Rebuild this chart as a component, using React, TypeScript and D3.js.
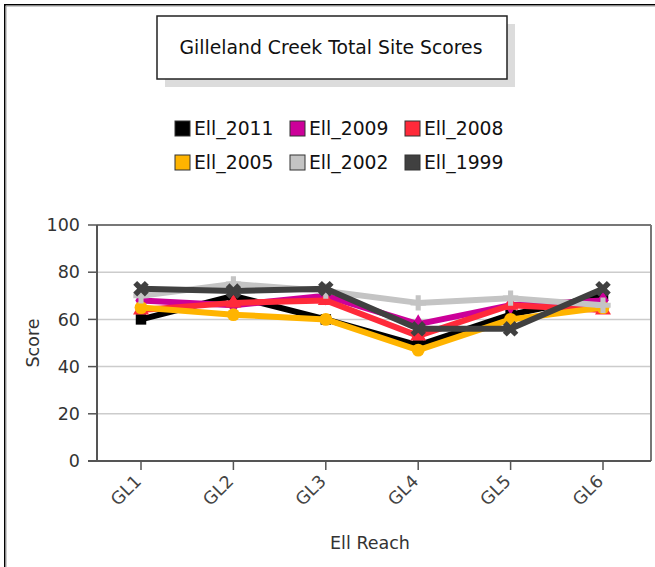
import React from "react";
import * as d3 from "d3";

const categories = ["GL1", "GL2", "GL3", "GL4", "GL5", "GL6"];
const seriesNames = ["Ell_2011", "Ell_2009", "Ell_2008", "Ell_2005", "Ell_2002", "Ell_1999"];
const ell2011 = [60, 70, 60, 49, 62, 70];
const ell2009 = [68, 66, 70, 58, 66, 68];
const ell2008 = [64, 67, 68, 53, 66, 64];
const ell2005 = [65, 62, 60, 47, 60, 65];
const ell2002 = [70, 75, 72, 67, 69, 66];
const ell1999 = [73, 72, 73, 56, 56, 73];
const seriesValues = [ell2011, ell2009, ell2008, ell2005, ell2002, ell1999];
const colors = ["#000000", "#cc0099", "#ff2a3a", "#ffb400", "#c4c4c4", "#404040"];
const yTicks = [0, 20, 40, 60, 80, 100];
const title = "Gilleland Creek Total Site Scores";

const FONT = "DejaVu Sans, sans-serif";

export default function App() {
  const left = 97, right = 651, top = 225, bottom = 461;
  const x = d3.scalePoint<string>().domain(categories).range([141, 603]);
  const y = d3.scaleLinear().domain([0, 100]).range([bottom, top]);
  const line = d3.line<number>().x((_, i) => x(categories[i])!).y((v) => y(v));

  const symbolFor = (i: number) => {
    switch (i) {
      case 0: return d3.symbol().type(d3.symbolSquare).size(110)()!;
      case 1: return d3.symbol().type(d3.symbolDiamond).size(110)()!;
      case 2: return d3.symbol().type(d3.symbolTriangle).size(110)()!;
      case 3: return d3.symbol().type(d3.symbolCircle).size(130)()!;
      case 4: return d3.symbol().type(d3.symbolCross).size(130)()!;
      default: return d3.symbol().type(d3.symbolCross).size(150)()!;
    }
  };

  const legendX = [175, 290, 405];
  const legendY = [121, 155];

  return (
    <svg width={655} height={567} style={{ position: "absolute", left: 0, top: 0, background: "#fff" }}>
      <rect x={0} y={0} width={655} height={567} fill="#fff" />
      {/* outer frame */}
      <path d="M4.75,567 V4.75 H655" fill="none" stroke="#000" strokeWidth={1.5} />
      <path d="M6,567 V6 H655" fill="none" stroke="#999" strokeWidth={1} />

      {/* title */}
      <rect x={165} y={24} width={350} height={63} fill="#dcdcdc" />
      <rect x={157} y={16} width={350} height={63} fill="#fff" stroke="#222" strokeWidth={1.5} />
      <text x={331} y={54} textAnchor="middle" fontFamily={FONT} fontSize={18.8} fill="#111">{title}</text>

      {/* legend */}
      {seriesNames.map((name, i) => {
        const lx = legendX[i % 3];
        const ly = legendY[Math.floor(i / 3)];
        return (
          <g key={name}>
            <rect x={lx} y={ly} width={15} height={15} fill={colors[i]} stroke="#333" strokeWidth={1} />
            <text x={lx + 19} y={ly + 14} fontFamily={FONT} fontSize={18.8} fill="#111">{name}</text>
          </g>
        );
      })}

      {/* gridlines */}
      {yTicks.filter((t) => t > 0 && t < 100).map((t) => (
        <line key={t} x1={left} x2={right} y1={y(t)} y2={y(t)} stroke="#cccccc" strokeWidth={1.5} />
      ))}
      {/* plot border top/right */}
      <line x1={left} x2={right} y1={y(100)} y2={y(100)} stroke="#777" strokeWidth={2} />
      <line x1={right} x2={right} y1={y(100)} y2={y(0)} stroke="#777" strokeWidth={2} />

      {/* series */}
      {seriesValues.map((vals, i) => (
        <g key={seriesNames[i]}>
          <path d={line(vals)!} fill="none" stroke={colors[i]} strokeWidth={6} strokeLinejoin="round" />
          {vals.map((v, j) => (
            <path key={j} d={symbolFor(i)} fill={colors[i]}
              transform={`translate(${x(categories[j])},${y(v)})${i === 5 ? " rotate(45)" : ""}`} />
          ))}
        </g>
      ))}

      {/* axes */}
      <line x1={left} x2={left} y1={y(100)} y2={y(0)} stroke="#555" strokeWidth={2} />
      <line x1={left - 9} x2={right} y1={y(0)} y2={y(0)} stroke="#555" strokeWidth={2} />
      {yTicks.map((t) => (
        <g key={t}>
          <line x1={left - 9} x2={left} y1={y(t)} y2={y(t)} stroke="#555" strokeWidth={1.5} />
          <text x={80} y={y(t)} dy="0.35em" textAnchor="end" fontFamily={FONT} fontSize={17.5} fill="#333">{t}</text>
        </g>
      ))}
      {categories.map((c) => (
        <g key={c}>
          <line x1={x(c)!} x2={x(c)!} y1={y(0)} y2={y(0) + 9} stroke="#555" strokeWidth={1.5} />
          <text transform={`translate(${x(c)! - 3},${y(0) + 17}) rotate(-45)`} textAnchor="end" dy="0.35em"
            fontFamily={FONT} fontSize={17.5} fill="#444">{c}</text>
        </g>
      ))}

      {/* axis titles */}
      <text transform="translate(39,343) rotate(-90)" textAnchor="middle" fontFamily={FONT} fontSize={17.5} fill="#333">Score</text>
      <text x={370} y={549} textAnchor="middle" fontFamily={FONT} fontSize={17.5} fill="#333">Ell Reach</text>
    </svg>
  );
}
